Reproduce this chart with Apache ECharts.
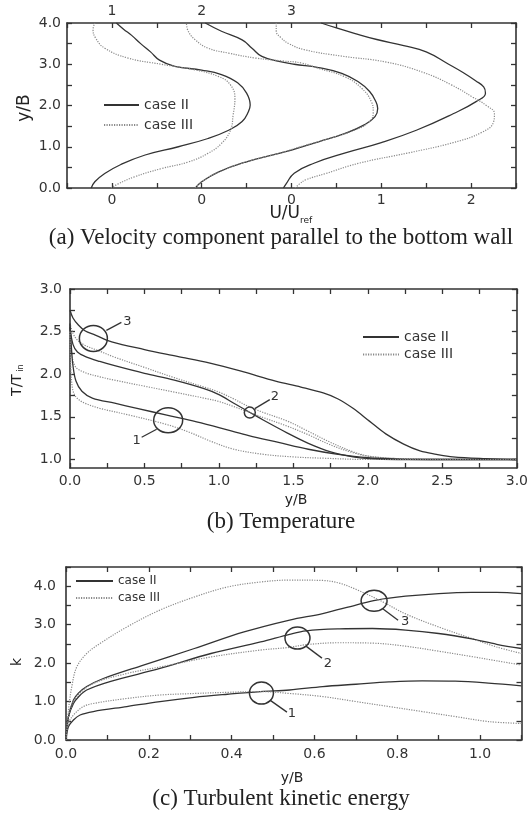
<!DOCTYPE html>
<html><head><meta charset="utf-8">
<script src="https://cdn.jsdelivr.net/npm/echarts@6/dist/echarts.min.js"></script>
<style>html,body{margin:0;padding:0;background:#fff}#c{width:531px;height:816px}</style>
</head><body><div id="c"></div>
<script>
// ---------- Panel (a): U/Uref profiles (local U, y/B) ----------
const aProfileOffsets = [-2, -1, 0];           // profile 1,2,3 zero positions on shared axis
const aTopLabelValues = [-2, -1, 0];
const aTopLabelTexts = ['1', '2', '3'];
const aBottomLabelValues = [-2, -1, 0, 1, 2];
const aBottomLabelTexts = ['0', '0', '0', '1', '2'];

const a1IIy = [0, 0.15, 0.35, 0.57, 0.8, 1.0, 1.2, 1.4, 1.61, 1.85, 2.01, 2.3, 2.55, 2.75, 2.86, 2.95, 3.1, 3.3, 3.5, 3.7, 3.85, 4.0];
const a1IIu = [-0.23, -0.19, -0.08, 0.10, 0.37, 0.74, 1.07, 1.30, 1.45, 1.52, 1.54, 1.50, 1.40, 1.22, 1.00, 0.70, 0.53, 0.43, 0.32, 0.22, 0.13, 0.05];
const a1IIIy = [0, 0.1, 0.27, 0.47, 0.63, 0.84, 1.08, 1.4, 1.77, 2.17, 2.5, 2.7, 2.86, 3.0, 3.15, 3.39, 3.63, 3.84, 4.0];
const a1IIIu = [-0.01, 0.07, 0.25, 0.55, 0.85, 1.07, 1.22, 1.32, 1.35, 1.37, 1.32, 1.19, 0.93, 0.55, 0.18, -0.08, -0.18, -0.21, -0.19];

const a2IIy = [0, 0.15, 0.39, 0.63, 0.84, 0.92, 1.12, 1.32, 1.53, 1.73, 1.93, 2.09, 2.34, 2.58, 2.78, 2.92, 3.0, 3.07, 3.19, 3.39, 3.59, 3.8, 4.0];
const a2IIu = [-0.07, 0, 0.19, 0.49, 0.86, 1.0, 1.30, 1.59, 1.81, 1.93, 1.96, 1.94, 1.87, 1.74, 1.56, 1.30, 1.03, 0.86, 0.67, 0.56, 0.45, 0.22, 0.04];
const a2IIIy = [0, 0.15, 0.39, 0.63, 0.84, 1.0, 1.2, 1.4, 1.61, 1.85, 2.09, 2.42, 2.70, 2.90, 3.03, 3.08, 3.15, 3.27, 3.39, 3.59, 3.80, 4.0];
const a2IIIu = [-0.07, 0, 0.19, 0.49, 0.86, 1.10, 1.42, 1.70, 1.87, 1.91, 1.89, 1.78, 1.59, 1.30, 1.11, 0.90, 0.60, 0.30, 0.07, -0.07, -0.15, -0.17];

const a3IIy = [0, 0.1, 0.36, 0.6, 0.85, 1.1, 1.4, 1.8, 2.1, 2.3, 2.45, 2.6, 2.8, 3.0, 3.3, 3.45, 3.6, 3.75, 3.88, 4.0];
const a3IIu = [-0.09, -0.06, 0.03, 0.25, 0.6, 1.0, 1.39, 1.80, 2.06, 2.16, 2.14, 2.05, 1.91, 1.75, 1.50, 1.25, 0.95, 0.70, 0.50, 0.33];
const a3IIIy = [0, 0.1, 0.2, 0.35, 0.6, 0.85, 1.1, 1.35, 1.6, 1.8, 2.0, 2.2, 2.5, 2.8, 3.05, 3.2, 3.35, 3.5, 3.65, 3.8, 3.95, 4.0];
const a3IIIu = [0.04, 0.09, 0.16, 0.38, 0.75, 1.3, 1.8, 2.12, 2.25, 2.26, 2.17, 2.02, 1.78, 1.47, 1.06, 0.55, 0.15, -0.03, -0.12, -0.17, -0.17, -0.17];

// ---------- Panel (b): T/Tin vs y/B ----------
const bYTickValues = [1.0, 1.25, 1.5, 1.75, 2.0, 2.25, 2.5, 2.75, 3.0];
const bYLabelValues = [1.0, 1.5, 2.0, 2.5, 3.0];

const b3IIx = [0, 0.02, 0.055, 0.1, 0.17, 0.28, 0.5, 0.72, 0.94, 1.16, 1.38, 1.55, 1.7, 1.8, 1.9, 2.01, 2.12, 2.24, 2.35, 2.46, 2.57, 2.79, 3.0];
const b3IIy = [2.75, 2.66, 2.58, 2.51, 2.46, 2.38, 2.29, 2.21, 2.13, 2.03, 1.92, 1.85, 1.78, 1.71, 1.60, 1.45, 1.30, 1.18, 1.10, 1.06, 1.03, 1.01, 1.0];
const b3IIIx = [0, 0.02, 0.05, 0.1, 0.2, 0.3, 0.5, 0.7, 0.9, 1.0, 1.1, 1.2, 1.3, 1.46, 1.6, 1.75, 1.9, 2.0, 2.1, 2.3, 2.6, 3.0];
const b3IIIy = [2.6, 2.48, 2.40, 2.34, 2.27, 2.20, 2.08, 1.96, 1.85, 1.79, 1.71, 1.62, 1.55, 1.45, 1.33, 1.20, 1.09, 1.04, 1.02, 1.005, 1.0, 1.0];
const b2IIx = [0, 0.02, 0.05, 0.1, 0.2, 0.3, 0.5, 0.7, 0.9, 1.0, 1.1, 1.2, 1.3, 1.46, 1.6, 1.75, 1.9, 2.0, 2.2, 2.5, 3.0];
const b2IIy = [2.55, 2.35, 2.26, 2.21, 2.15, 2.10, 2.01, 1.93, 1.83, 1.76, 1.66, 1.56, 1.46, 1.31, 1.19, 1.09, 1.03, 1.01, 1.0, 1.0, 1.0];
const b2IIIx = [0, 0.015, 0.04, 0.1, 0.2, 0.3, 0.5, 0.7, 0.9, 1.0, 1.1, 1.2, 1.3, 1.46, 1.6, 1.75, 1.9, 2.0, 2.2, 2.5, 3.0];
const b2IIIy = [2.5, 2.2, 2.08, 2.02, 1.97, 1.93, 1.86, 1.79, 1.72, 1.68, 1.62, 1.555, 1.49, 1.39, 1.29, 1.17, 1.08, 1.04, 1.01, 1.0, 1.0];
const b1IIx = [0, 0.01, 0.02, 0.04, 0.08, 0.15, 0.3, 0.45, 0.65, 0.85, 1.05, 1.2, 1.4, 1.6, 1.8, 2.0, 2.2, 2.5, 3.0];
const b1IIy = [2.6, 2.3, 2.1, 1.92, 1.80, 1.72, 1.66, 1.60, 1.52, 1.44, 1.35, 1.28, 1.20, 1.12, 1.06, 1.02, 1.005, 1.0, 1.0];
const b1IIIx = [0, 0.005, 0.015, 0.03, 0.06, 0.1, 0.2, 0.4, 0.65, 0.8, 0.95, 1.1, 1.3, 1.5, 1.7, 2.0, 2.5, 3.0];
const b1IIIy = [2.5, 2.1, 1.85, 1.76, 1.70, 1.66, 1.60, 1.52, 1.41, 1.32, 1.21, 1.12, 1.06, 1.03, 1.015, 1.0, 1.0, 1.0];

// ---------- Panel (c): k vs y/B ----------
const c3IIx = [0, 0.006, 0.018, 0.03, 0.05, 0.09, 0.187, 0.31, 0.43, 0.54, 0.62, 0.70, 0.75, 0.82, 0.90, 0.98, 1.04, 1.10];
const c3IIy = [0, 0.61, 1.04, 1.22, 1.39, 1.60, 1.95, 2.38, 2.81, 3.12, 3.29, 3.51, 3.64, 3.74, 3.81, 3.84, 3.84, 3.81];
const c3IIIx = [0, 0.006, 0.014, 0.026, 0.05, 0.082, 0.147, 0.227, 0.31, 0.39, 0.47, 0.54, 0.62, 0.66, 0.70, 0.76, 0.82, 0.90, 0.98, 1.04, 1.10];
const c3IIIy = [0, 0.78, 1.39, 1.90, 2.25, 2.51, 2.94, 3.38, 3.72, 3.98, 4.11, 4.16, 4.15, 4.08, 3.92, 3.62, 3.28, 2.94, 2.64, 2.42, 2.25];
const c2IIx = [0, 0.006, 0.018, 0.03, 0.05, 0.106, 0.227, 0.35, 0.47, 0.54, 0.58, 0.66, 0.74, 0.82, 0.90, 0.98, 1.04, 1.10];
const c2IIy = [0, 0.6, 0.95, 1.12, 1.30, 1.52, 1.86, 2.25, 2.55, 2.75, 2.84, 2.89, 2.90, 2.86, 2.77, 2.63, 2.49, 2.38];
const c2IIIx = [0, 0.008, 0.026, 0.066, 0.147, 0.227, 0.35, 0.47, 0.54, 0.58, 0.66, 0.74, 0.82, 0.90, 0.98, 1.04, 1.10];
const c2IIIy = [0, 0.7, 1.13, 1.47, 1.73, 1.90, 2.16, 2.34, 2.41, 2.48, 2.53, 2.52, 2.44, 2.31, 2.17, 2.06, 1.95];
const c1IIx = [0, 0.006, 0.018, 0.034, 0.066, 0.147, 0.227, 0.31, 0.39, 0.47, 0.54, 0.62, 0.70, 0.78, 0.86, 0.94, 1.02, 1.10];
const c1IIy = [0, 0.35, 0.52, 0.65, 0.74, 0.87, 1.0, 1.11, 1.19, 1.26, 1.30, 1.39, 1.45, 1.51, 1.54, 1.53, 1.48, 1.41];
const c1IIIx = [0, 0.006, 0.018, 0.042, 0.066, 0.147, 0.227, 0.31, 0.39, 0.47, 0.54, 0.62, 0.70, 0.78, 0.86, 0.94, 1.02, 1.10];
const c1IIIy = [0, 0.43, 0.65, 0.87, 0.95, 1.08, 1.17, 1.21, 1.24, 1.26, 1.21, 1.13, 1.0, 0.87, 0.74, 0.61, 0.48, 0.43];

const seriesNames = ['case II', 'case III'];
const captions = ['(a) Velocity component parallel to the bottom wall', '(b) Temperature', '(c) Turbulent kinetic energy'];

// annotations: circle centre in data coords (grid 1 = b, grid 2 = c)
const annotations = [
  {grid: 1, x: 0.157, y: 2.42, label: '3'},
  {grid: 1, x: 1.207, y: 1.55, label: '2'},
  {grid: 1, x: 0.659, y: 1.46, label: '1'},
  {grid: 2, x: 0.472, y: 1.22, label: '1'},
  {grid: 2, x: 0.559, y: 2.65, label: '2'},
  {grid: 2, x: 0.744, y: 3.62, label: '3'}
];
const annStyle = [
  {rx: 14, ry: 13, l: [13, -8, 28, -16], t: [34, -17]},
  {rx: 5.5, ry: 5.5, l: [5, -4, 20, -13], t: [25, -16]},
  {rx: 14.5, ry: 12.5, l: [-11.5, 9, -26.5, 17], t: [-31.5, 20]},
  {rx: 12, ry: 11, l: [8.5, 7, 25.5, 19], t: [30.5, 21]},
  {rx: 12.5, ry: 11, l: [8.5, 8, 24.5, 20], t: [30.5, 26]},
  {rx: 13, ry: 10.5, l: [8, 7.5, 24, 19.5], t: [31, 20.5]}
];

// ---------- build option ----------
const INK = '#333';
const FONT = '"DejaVu Sans", sans-serif';
const solidStyle = {color: '#333', width: 1.3, type: 'solid'};
const dotStyle = {color: '#8a8a8a', width: 1.2, type: [1.2, 1.3]};

function isInt(v) { return Math.abs(v - Math.round(v)) < 1e-6; }
function baseAxis(extra) {
  return Object.assign({
    type: 'value',
    axisLine: {show: true, onZero: false, lineStyle: {color: INK, width: 1.6}},
    axisTick: {show: true, inside: true, length: 5, lineStyle: {color: INK, width: 1.3}},
    splitLine: {show: false},
    axisLabel: {color: INK, fontFamily: FONT, fontSize: 14}
  }, extra);
}
function mkSeries(name, xs, ys, grid, style, off) {
  return {
    name: name, type: 'line', xAxisIndex: grid * 2, yAxisIndex: grid * 2,
    data: xs.map((v, i) => [v + (off || 0), ys[i]]),
    showSymbol: false, symbol: 'none', smooth: grid === 0 ? 0.45 : 0.35,
    color: style.color,
    lineStyle: style, silent: true, animation: false, z: 3
  };
}
function mkLegend(left, top, w, h, gap, fs) {
  return {data: seriesNames, orient: 'vertical', left: left, top: top, padding: 0,
    itemWidth: w, itemHeight: h, itemGap: gap, selectedMode: false,
    itemStyle: {color: 'rgba(0,0,0,0)', borderWidth: 0, opacity: 0},
    textStyle: {color: INK, fontFamily: FONT, fontSize: fs}};
}

const option = {
  animation: false,
  backgroundColor: '#fff',
  grid: [
    {left: 67, top: 23, width: 449, height: 165},
    {left: 70, top: 289, width: 452, height: 179},
    {left: 66, top: 567, width: 455.5, height: 173}
  ],
  xAxis: [
    baseAxis({gridIndex: 0, position: 'bottom', min: -2.5, max: 2.5, interval: 0.5,
      axisLabel: {color: INK, fontFamily: FONT, fontSize: 14, margin: 5,
        formatter: v => { const i = aBottomLabelValues.findIndex(t => Math.abs(t - v) < 1e-6); return i >= 0 ? aBottomLabelTexts[i] : ''; }}}),
    baseAxis({gridIndex: 0, position: 'top', min: -2.5, max: 2.5, interval: 0.5,
      axisLabel: {color: INK, fontFamily: FONT, fontSize: 14, margin: 5,
        formatter: v => { const i = aTopLabelValues.findIndex(t => Math.abs(t - v) < 1e-6); return i >= 0 ? aTopLabelTexts[i] : ''; }}}),
    baseAxis({gridIndex: 1, position: 'bottom', min: 0, max: 3, interval: 0.25,
      axisLabel: {color: INK, fontFamily: FONT, fontSize: 14, margin: 6,
        formatter: v => isInt(v * 2) ? v.toFixed(1) : ''}}),
    baseAxis({gridIndex: 1, position: 'top', min: 0, max: 3, interval: 0.25, axisLabel: {show: false}}),
    baseAxis({gridIndex: 2, position: 'bottom', min: 0, max: 1.1, interval: 0.1,
      axisLabel: {color: INK, fontFamily: FONT, fontSize: 14, margin: 7,
        formatter: v => isInt(v * 5) ? v.toFixed(1) : ''}}),
    baseAxis({gridIndex: 2, position: 'top', min: 0, max: 1.1, interval: 0.1, axisLabel: {show: false}})
  ],
  yAxis: [
    baseAxis({gridIndex: 0, position: 'left', min: 0, max: 4, interval: 0.5,
      axisLabel: {color: INK, fontFamily: FONT, fontSize: 14, margin: 6,
        formatter: v => isInt(v) ? v.toFixed(1) : ''}}),
    baseAxis({gridIndex: 0, position: 'right', min: 0, max: 4, interval: 0.5, axisLabel: {show: false}}),
    baseAxis({gridIndex: 1, position: 'left', min: 0.9, max: 3,
      axisTick: {show: true, inside: true, length: 5, lineStyle: {color: INK, width: 1.3}, customValues: bYTickValues},
      axisLabel: {color: INK, fontFamily: FONT, fontSize: 14, margin: 8, customValues: bYLabelValues,
        formatter: v => v.toFixed(1)}}),
    baseAxis({gridIndex: 1, position: 'right', min: 0.9, max: 3,
      axisTick: {show: true, inside: true, length: 5, lineStyle: {color: INK, width: 1.3}, customValues: bYTickValues},
      axisLabel: {show: false}}),
    baseAxis({gridIndex: 2, position: 'left', min: 0, max: 4.5, interval: 0.5,
      axisLabel: {color: INK, fontFamily: FONT, fontSize: 14, margin: 10,
        formatter: v => isInt(v) ? v.toFixed(1) : ''}}),
    baseAxis({gridIndex: 2, position: 'right', min: 0, max: 4.5, interval: 0.5, axisLabel: {show: false}})
  ],
  legend: [
    mkLegend(103, 98, 35, 14, 6, 14),
    mkLegend(362, 330, 36, 14, 3.5, 14),
    mkLegend(75, 575, 37, 12, 5, 12)
  ],
  series: [
    mkSeries('case II', a1IIu, a1IIy, 0, solidStyle, aProfileOffsets[0]),
    mkSeries('case III', a1IIIu, a1IIIy, 0, dotStyle, aProfileOffsets[0]),
    mkSeries('case II', a2IIu, a2IIy, 0, solidStyle, aProfileOffsets[1]),
    mkSeries('case III', a2IIIu, a2IIIy, 0, dotStyle, aProfileOffsets[1]),
    mkSeries('case II', a3IIu, a3IIy, 0, solidStyle, aProfileOffsets[2]),
    mkSeries('case III', a3IIIu, a3IIIy, 0, dotStyle, aProfileOffsets[2]),
    mkSeries('case II', b3IIx, b3IIy, 1, solidStyle),
    mkSeries('case III', b3IIIx, b3IIIy, 1, dotStyle),
    mkSeries('case II', b2IIx, b2IIy, 1, solidStyle),
    mkSeries('case III', b2IIIx, b2IIIy, 1, dotStyle),
    mkSeries('case II', b1IIx, b1IIy, 1, solidStyle),
    mkSeries('case III', b1IIIx, b1IIIy, 1, dotStyle),
    mkSeries('case II', c3IIx, c3IIy, 2, solidStyle),
    mkSeries('case III', c3IIIx, c3IIIy, 2, dotStyle),
    mkSeries('case II', c2IIx, c2IIy, 2, solidStyle),
    mkSeries('case III', c2IIIx, c2IIIy, 2, dotStyle),
    mkSeries('case II', c1IIx, c1IIy, 2, solidStyle),
    mkSeries('case III', c1IIIx, c1IIIy, 2, dotStyle)
  ]
};

const chart = echarts.init(document.getElementById('c'), null, {renderer: 'canvas'});
chart.setOption(option);

// ---------- texts, titles and annotations ----------
const SERIF = '"Liberation Serif", "Times New Roman", serif';
const g = [];
function txt(x, y, s, font, rot, align) {
  g.push({type: 'text', x: x, y: y, rotation: rot || 0, silent: true,
    style: {text: s, font: font, fill: '#222', align: align || 'center', verticalAlign: 'middle'}});
}
txt(281, 238, captions[0], '23px ' + SERIF);
txt(281, 522, captions[1], '23px ' + SERIF);
txt(281, 799, captions[2], '23px ' + SERIF);
// axis titles
txt(25, 108, 'y/B', '17px ' + FONT, Math.PI / 2);
txt(300, 214, 'U/U', '17px ' + FONT, 0, 'right');
txt(300, 221, 'ref', '9px ' + FONT, 0, 'left');
txt(17, 385, 'T/T', '14px ' + FONT, Math.PI / 2);
txt(21, 368, 'in', '8px ' + FONT, Math.PI / 2);
txt(296, 500, 'y/B', '14px ' + FONT);
txt(17, 662, 'k', '14px ' + FONT, Math.PI / 2);
txt(292, 778, 'y/B', '14px ' + FONT);

annotations.forEach((a, i) => {
  const p = chart.convertToPixel({gridIndex: a.grid}, [a.x, a.y]);
  const s = annStyle[i];
  g.push({type: 'ellipse', silent: true, z: 10, shape: {cx: p[0], cy: p[1], rx: s.rx, ry: s.ry},
    style: {fill: 'none', stroke: '#333', lineWidth: 1.5}});
  g.push({type: 'line', silent: true, z: 10, shape: {x1: p[0] + s.l[0], y1: p[1] + s.l[1], x2: p[0] + s.l[2], y2: p[1] + s.l[3]},
    style: {stroke: '#333', lineWidth: 1.3}});
  g.push({type: 'text', silent: true, z: 10, x: p[0] + s.t[0], y: p[1] + s.t[1],
    style: {text: a.label, font: '13px ' + FONT, fill: '#333', align: 'center', verticalAlign: 'middle'}});
});
chart.setOption({graphic: g});
</script>
</body></html>
